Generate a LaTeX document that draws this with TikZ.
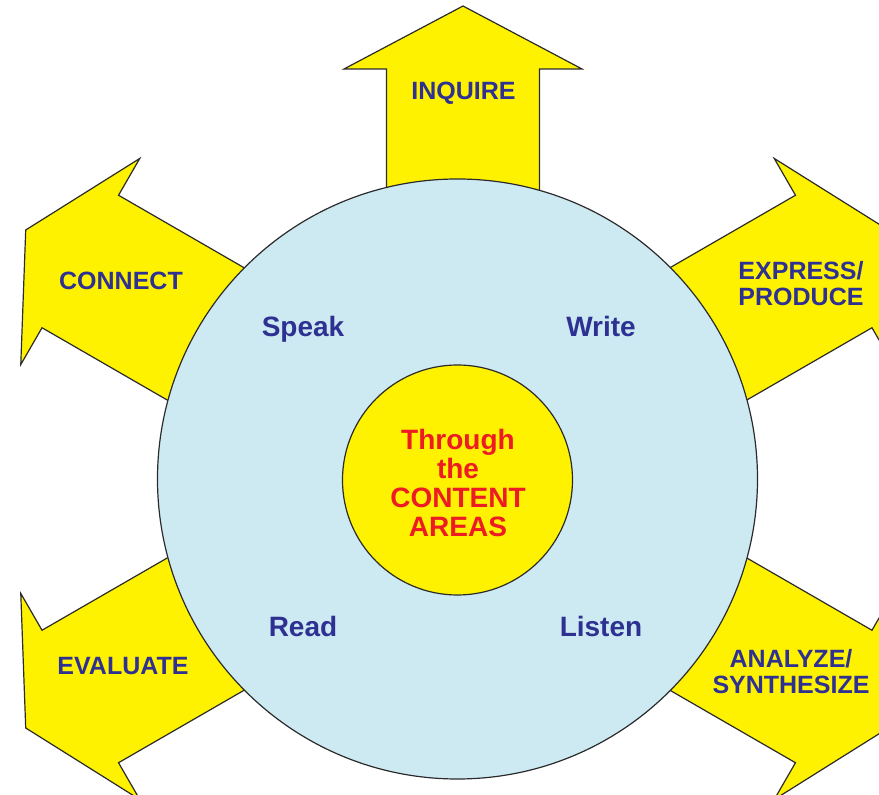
\documentclass[tikz,border=0pt]{standalone}
\usepackage{fontspec}
\setmainfont{Liberation Sans}
\definecolor{ayellow}{HTML}{FFF200}
\definecolor{lblue}{HTML}{CDEAF2}
\definecolor{tblue}{HTML}{2E3192}
\definecolor{tred}{HTML}{ED1C24}
\definecolor{outl}{HTML}{2B2B2B}
\newcommand\yarrow[4]{%
  \begin{scope}[shift={(#1pt,#2pt)},rotate=#3]
    \draw[arrowshape] (200,-76.5) -- (#4,-76.5) -- (#4,-119) -- ({#4+63},0) -- (#4,119) -- (#4,76.5) -- (200,76.5) -- cycle;
  \end{scope}}
\begin{document}
\begin{tikzpicture}[x=1pt,y=1pt,
  arrowshape/.style={fill=ayellow, draw=outl, line width=1.2pt, line join=miter},
  disc/.style={circle, draw=outl, line width=1.2pt, inner sep=0pt},
  alabel/.style={text=tblue, font=\bfseries\fontsize{25}{26}\selectfont, align=center, inner sep=0pt},
  slabel/.style={text=tblue, font=\bfseries\fontsize{28}{29}\selectfont, inner sep=0pt, anchor=base},
  clabel/.style={text=tred, font=\bfseries\fontsize{28}{29}\selectfont, align=center, inner sep=0pt}]
\useasboundingbox (0,0) rectangle (879,795);
% arrows
\yarrow{463}{316}{90}{410}
\yarrow{457}{316}{150}{435}
\yarrow{457}{316}{30}{435}
\yarrow{457}{316}{210}{435}
\yarrow{457}{316}{330}{435}
% circles
\node[disc, fill=lblue, minimum size=600pt] (outer) at (457.5,316) {};
\node[disc, fill=ayellow, minimum size=230pt] (inner) at (457.5,315) {};
% arrow labels
\node[alabel, anchor=base] (inquire) at (463.5,695) {INQUIRE};
\node[alabel, anchor=base] (connect) at (121,505) {CONNECT};
\node[alabel] (express) at (801,511) {EXPRESS/\\PRODUCE};
\node[alabel, anchor=base] (evaluate) at (123,120) {EVALUATE};
\node[alabel] (analyze) at (791,123) {ANALYZE/\\SYNTHESIZE};
% skill labels
\node[slabel] (speak) at (303,458) {Speak};
\node[slabel] (write) at (601,458) {Write};
\node[slabel] (read) at (303,158.5) {Read};
\node[slabel] (listen) at (601,158.5) {Listen};
% centre
\node[clabel] (centre) at (458,312.5) {Through\\the\\CONTENT\\AREAS};
\end{tikzpicture}
\end{document}
